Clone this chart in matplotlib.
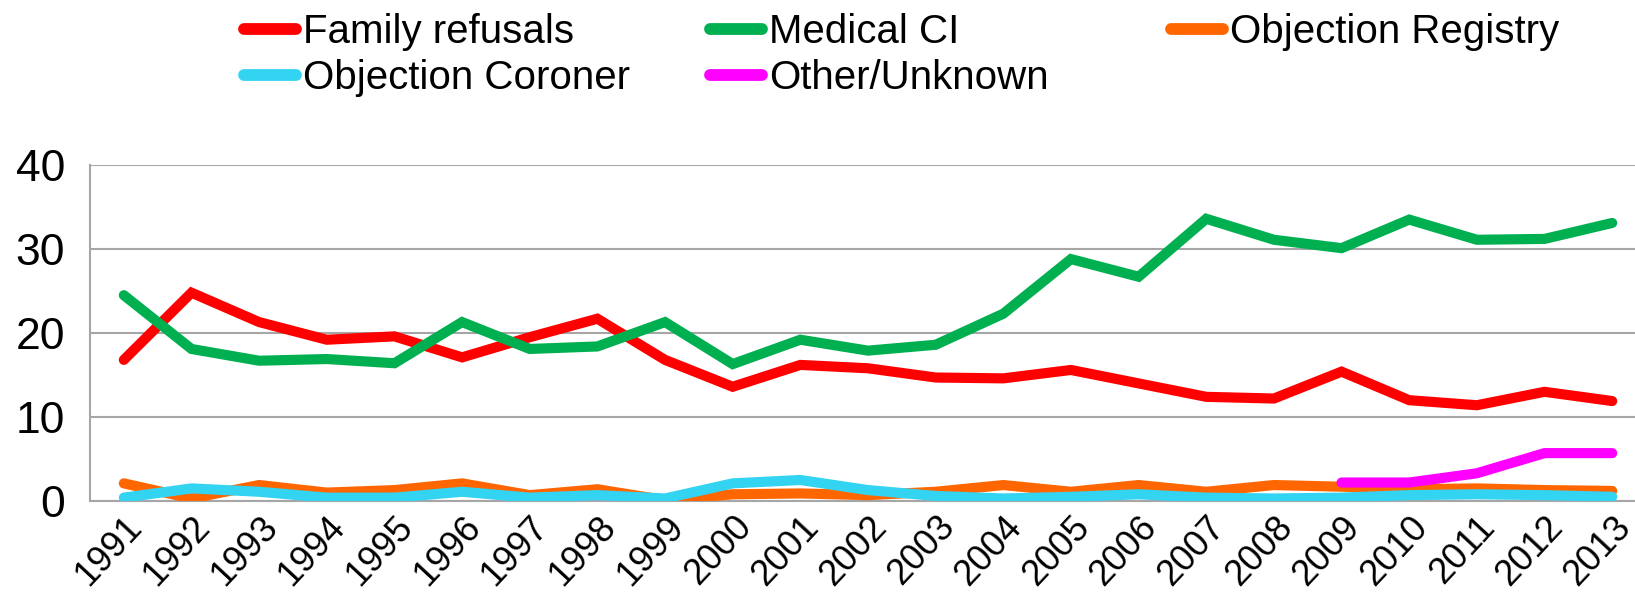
import matplotlib.pyplot as plt

years = [str(y) for y in range(1991, 2014)]

family_refusals = [16.8, 24.8, 21.3, 19.2, 19.6, 17.1, 19.5, 21.7, 16.8, 13.6, 16.2, 15.8,
                   14.7, 14.6, 15.6, 14.0, 12.4, 12.2, 15.4, 12.0, 11.4, 13.0, 11.9]
medical_ci = [24.5, 18.1, 16.7, 16.9, 16.4, 21.3, 18.1, 18.4, 21.3, 16.3, 19.2, 17.9,
              18.6, 22.3, 28.8, 26.7, 33.6, 31.1, 30.1, 33.5, 31.1, 31.2, 33.1]
objection_registry = [2.1, 0.3, 1.9, 1.0, 1.3, 2.1, 0.7, 1.4, 0.1, 0.8, 0.9, 0.7,
                      1.1, 1.9, 1.1, 1.9, 1.1, 1.9, 1.7, 1.4, 1.5, 1.3, 1.2]
objection_coroner = [0.4, 1.5, 1.1, 0.4, 0.4, 1.1, 0.4, 0.7, 0.3, 2.1, 2.5, 1.3,
                     0.6, 0.3, 0.5, 0.8, 0.4, 0.3, 0.4, 0.7, 0.8, 0.7, 0.5]
other_years = ["2009", "2010", "2011", "2012", "2013"]
other_unknown = [2.2, 2.2, 3.3, 5.7, 5.7]

plt.rcParams['font.family'] = ['Liberation Sans', 'DejaVu Sans']

W, H = 1635, 599
fig = plt.figure(figsize=(W / 100, H / 100), dpi=100)
ax = fig.add_axes([90 / W, 98 / H, 1556 / W, 336 / H])

x = list(range(len(years)))
xo = [years.index(y) for y in other_years]
kw = dict(lw=7.3, solid_capstyle='round', solid_joinstyle='miter')
l1, = ax.plot(x, family_refusals, color='#FF0000', label='Family refusals', zorder=3, **kw)
l2, = ax.plot(x, medical_ci, color='#00B050', label='Medical CI', zorder=3, **kw)
l3, = ax.plot(x, objection_registry, color='#FF6600', label='Objection Registry', zorder=3, **kw)
l4, = ax.plot(x, objection_coroner, color='#33D3F2', label='Objection Coroner', zorder=4, **kw)
l5, = ax.plot(xo, other_unknown, color='#FF00FF', label='Other/Unknown', zorder=5, **kw)

ax.set_xlim(-0.5, len(years) - 0.5)
ax.set_ylim(0, 40)
ax.set_yticks([0, 10, 20, 30, 40])
ax.set_xticks(x)
ax.set_xticklabels(years, rotation=47, ha='right', va='top', rotation_mode='anchor')
ax.tick_params(axis='both', length=0)
ax.tick_params(axis='y', pad=18, labelsize=32)
ax.tick_params(axis='x', pad=6, labelsize=26)
ax.grid(axis='y', color='#A6A6A6', lw=1.5)
ax.set_axisbelow(True)
for s in ['top', 'right']:
    ax.spines[s].set_visible(False)
for s in ['left', 'bottom']:
    ax.spines[s].set_color('#A6A6A6')
    ax.spines[s].set_linewidth(1.5)

# one legend per column, like the Excel layout
columns = [([l1, l4], 244), ([l2, l5], 710), ([l3], 1171)]
for hs, left in columns:
    leg = fig.legend(hs, [h.get_label() for h in hs], loc='upper left',
                     bbox_to_anchor=(left / W, 1 - 13 / H), frameon=False,
                     prop={'size': 29}, handlelength=1.3, handletextpad=0.17,
                     labelspacing=0.2, borderpad=0, borderaxespad=0)
    for lh in leg.get_lines():
        lh.set_linewidth(8.5)
        lh.set_solid_capstyle('round')

fig.savefig('out.png', dpi=100)
